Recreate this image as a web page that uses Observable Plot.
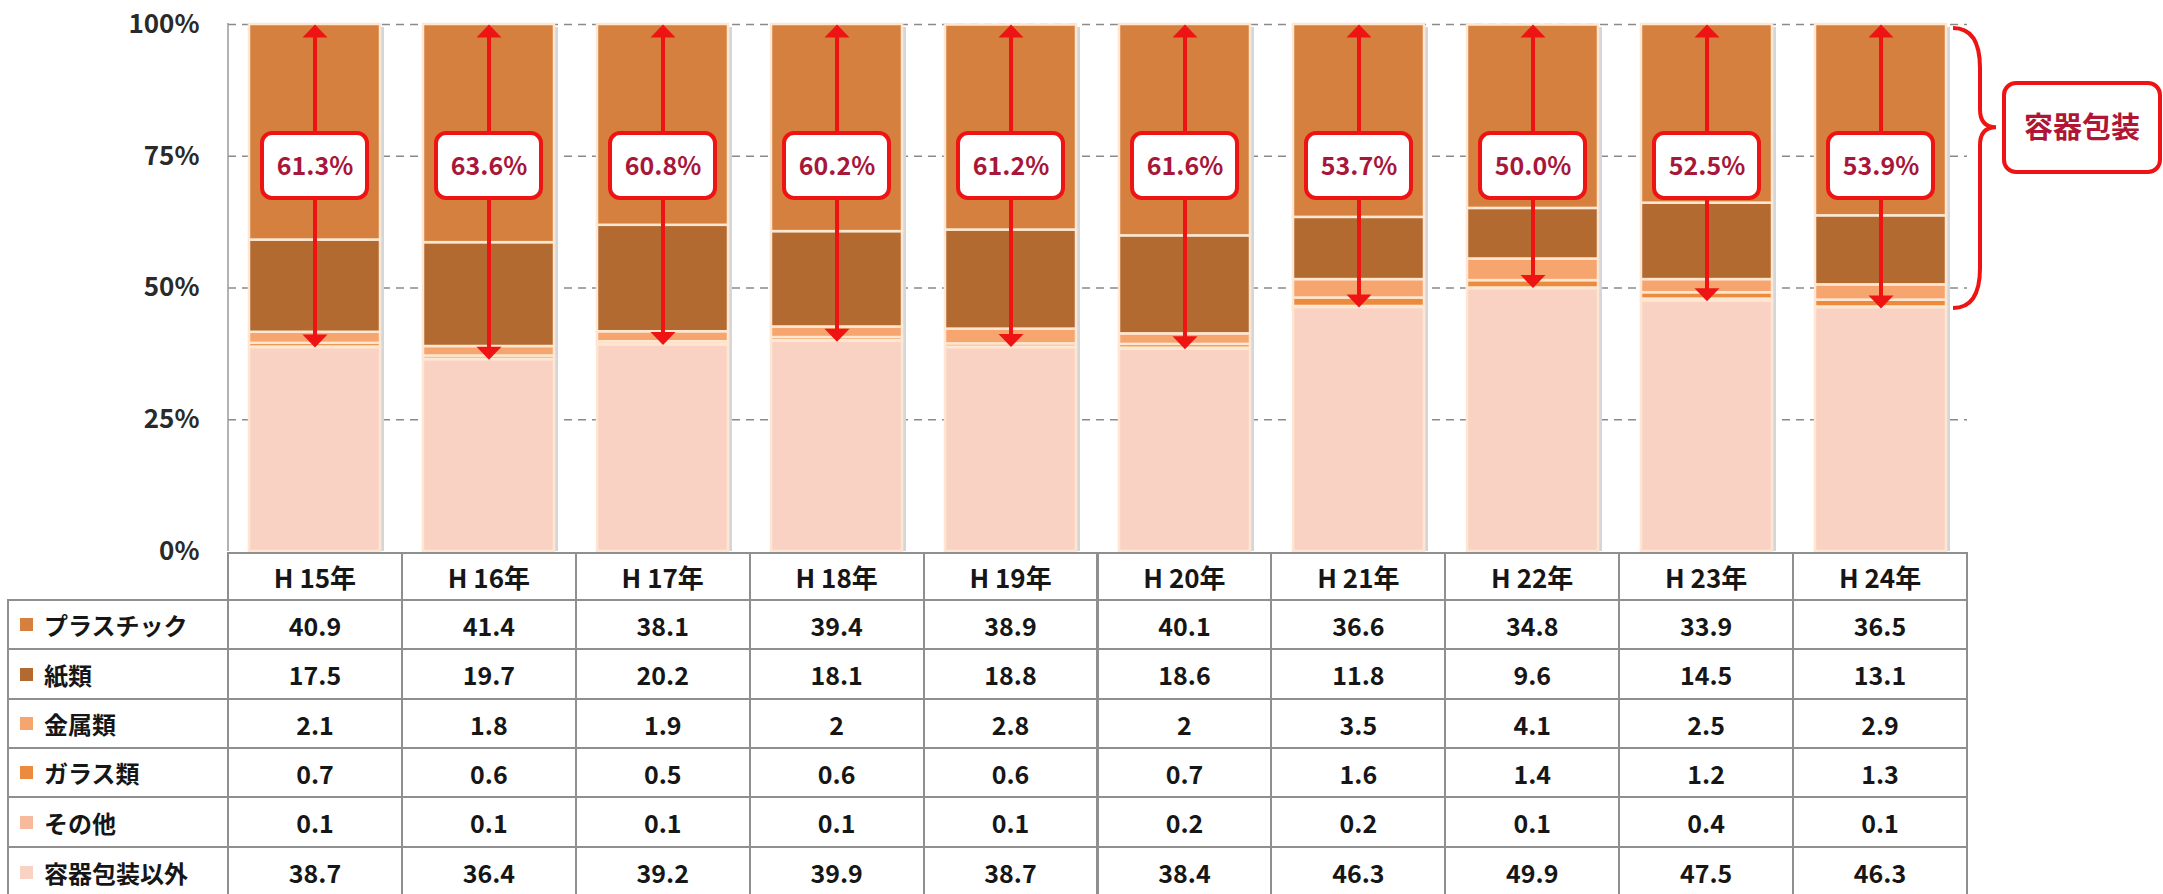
<!DOCTYPE html>
<html><head><meta charset="utf-8">
<script src="https://cdn.jsdelivr.net/npm/d3@7"></script>
<script src="https://cdn.jsdelivr.net/npm/@observablehq/plot@0.6"></script>
<style>
body{margin:0;background:#fff;}
#wrap{position:relative;width:2163px;height:894px;overflow:hidden;font-family:"Noto Sans CJK JP","Noto Sans",sans-serif;}
#chart{position:absolute;left:0;top:0;}
.cell{position:absolute;box-sizing:border-box;border:2px solid #8f8f8f;display:flex;align-items:center;justify-content:center;font-weight:700;color:#161616;background:#fff;}
.lab{justify-content:flex-start;}
.sw{display:inline-block;width:13px;height:13px;margin-left:11px;margin-right:11px;}
</style></head><body>
<div id="wrap"><div id="chart"></div><div id="table"></div></div>
<script>
// ---- data ----
const years = ["H 15年","H 16年","H 17年","H 18年","H 19年","H 20年","H 21年","H 22年","H 23年","H 24年"];
const seriesNames = ["プラスチック","紙類","金属類","ガラス類","その他","容器包装以外"];
const seriesColors = ["#d5803f","#b36a30","#f6a56f","#ec8a3e","#f8ba9c","#fad2c3"];
const plastic      = [40.9,41.4,38.1,39.4,38.9,40.1,36.6,34.8,33.9,36.5];
const paper        = [17.5,19.7,20.2,18.1,18.8,18.6,11.8,9.6,14.5,13.1];
const metal        = [2.1,1.8,1.9,2,2.8,2,3.5,4.1,2.5,2.9];
const glass        = [0.7,0.6,0.5,0.6,0.6,0.7,1.6,1.4,1.2,1.3];
const other        = [0.1,0.1,0.1,0.1,0.1,0.2,0.2,0.1,0.4,0.1];
const nonContainer = [38.7,36.4,39.2,39.9,38.7,38.4,46.3,49.9,47.5,46.3];
const containerShare = [61.3,63.6,60.8,60.2,61.2,61.6,53.7,50.0,52.5,53.9];
const yTicks = [0,25,50,75,100];
const gridTicks = [25,50,75,100];
const braceLabel = "容器包装";

const seriesArrays = [plastic, paper, metal, glass, other, nonContainer];

// ---- build stacked rows (bottom -> top) ----
const stackSeq = [[nonContainer,"容器包装以外"],[other,"その他"],[glass,"ガラス類"],[metal,"金属類"],[paper,"紙類"],[plastic,"プラスチック"]];
const rows = [];
stackSeq.forEach(([arr,name]) => arr.forEach((v,i) => rows.push({year: years[i], series: name, value: v})));
const shares = years.map((y,i) => ({year: y, v: containerShare[i]}));

const red = "#ee1414";
const upHead = {draw(ctx){ctx.moveTo(0,0);ctx.lineTo(12.5,13);ctx.lineTo(-12.5,13);ctx.closePath();}};
const downHead = {draw(ctx){ctx.moveTo(0,0);ctx.lineTo(12.5,-13);ctx.lineTo(-12.5,-13);ctx.closePath();}};
const FONT = '"Noto Sans CJK JP","Noto Sans",sans-serif';

const chart = Plot.plot({
  width: 2163,
  height: 570,
  marginTop: 24,
  marginBottom: 19,
  marginLeft: 228,
  marginRight: 196,
  style: {fontFamily: FONT, background: "transparent", overflow: "visible"},
  x: {domain: years, paddingInner: 0.248, paddingOuter: 0.115, axis: null},
  y: {domain: [0,100], clamp: true, axis: null},
  color: {domain: seriesNames, range: seriesColors},
  marks: [
    Plot.ruleY(gridTicks, {stroke: "#8a8a8a", strokeWidth: 1.6, strokeDasharray: "8,6"}),
    Plot.barY(shares, {x: "year", y1: 0, y2: 100, fill: "#d3d7dc", dx: 4, insetTop: 3}),
    Plot.barY(rows, {x: "year", y: "value", fill: "series", stroke: "#fde7d2", strokeWidth: 2.5}),
    Plot.ruleX(shares, {x: "year", y1: d => 100 - d.v + 1.5, y2: 98.5, stroke: red, strokeWidth: 4}),
    Plot.barY(shares, {x: "year", y1: 67.0, y2: 79.3, fill: "white", stroke: red, strokeWidth: 4, rx: 10, insetLeft: 13, insetRight: 13}),
    Plot.text(shares, {x: "year", y: 73.0, text: d => d.v.toFixed(1) + "%", fill: "#a8173a", fontSize: 25, fontWeight: 600, fontFamily: FONT}),
    Plot.dot(shares, {x: "year", y: 100, symbol: upHead, fill: red, stroke: "none", r: 5}),
    Plot.dot(shares, {x: "year", y: d => 100 - d.v, symbol: downHead, fill: red, stroke: "none", r: 5}),
    Plot.axisY(yTicks, {tickSize: 0, tickPadding: 29, tickFormat: d => d + "%", fontSize: 26, fontWeight: 700, fill: "#2a2a2a", label: null, fontFamily: FONT}),
    (index, scales, values, dims) => {
      const y = scales.y;
      const g = d3.create("svg:g");
      g.append("line").attr("x1", dims.marginLeft).attr("x2", dims.marginLeft)
        .attr("y1", y(100) - 1).attr("y2", y(0)).attr("stroke", "#9a9a9a").attr("stroke-width", 1.5);
      // brace spanning the last column's container share
      const xr = dims.width - dims.marginRight;
      const xl = xr - 14, xm = xr + 13, xt = xr + 29;
      const top = y(100) + 4, bot = y(100 - containerShare[containerShare.length - 1]);
      const tip = y(80.4);
      const p = `M${xl},${top} Q${xm},${top} ${xm},${top+40} L${xm},${tip-18} Q${xm},${tip} ${xt},${tip} Q${xm},${tip} ${xm},${tip+18} L${xm},${bot-40} Q${xm},${bot} ${xl},${bot}`;
      g.append("path").attr("d", p).attr("fill", "none").attr("stroke", red).attr("stroke-width", 4);
      const bx = xr + 37, bw = dims.width - 3 - bx, by = y(100) + 59, bh = 89;
      g.append("rect").attr("x", bx).attr("y", by).attr("width", bw).attr("height", bh)
        .attr("rx", 12).attr("fill", "white").attr("stroke", red).attr("stroke-width", 4);
      g.append("text").attr("x", bx + bw/2).attr("y", by + bh/2).attr("dy", "0.36em")
        .attr("text-anchor", "middle").attr("font-size", 29).attr("font-weight", 700)
        .attr("font-family", FONT).attr("fill", "#b01535").text(braceLabel);
      return g.node();
    }
  ]
});
document.getElementById("chart").appendChild(chart);

// ---- data table below the chart ----
const tbl = document.getElementById("table");
const colX = [8, 228];
for (let k = 1; k <= years.length; k++) colX.push(228 + k * (1967 - 228) / years.length);
const rowY = [553, 600, 649, 699, 748, 797, 847, 897];
function cell(x0, x1, y0, y1, html, cls, size) {
  const d = document.createElement("div");
  d.className = "cell" + (cls ? " " + cls : "");
  d.style.left = (x0 - 1) + "px"; d.style.top = (y0 - 1) + "px";
  d.style.width = (x1 - x0 + 2) + "px"; d.style.height = (y1 - y0 + 2) + "px";
  d.style.fontSize = size + "px";
  d.innerHTML = html;
  tbl.appendChild(d);
}
years.forEach((yr, i) => cell(colX[i+1], colX[i+2], rowY[0], rowY[1], yr, "", 26));
seriesNames.forEach((name, j) => {
  cell(colX[0], colX[1], rowY[j+1], rowY[j+2],
    `<span class="sw" style="background:${seriesColors[j]}"></span><span>${name}</span>`, "lab", 24);
  seriesArrays[j].forEach((v, i) => cell(colX[i+1], colX[i+2], rowY[j+1], rowY[j+2], String(v), "", 25));
});
</script></body></html>
